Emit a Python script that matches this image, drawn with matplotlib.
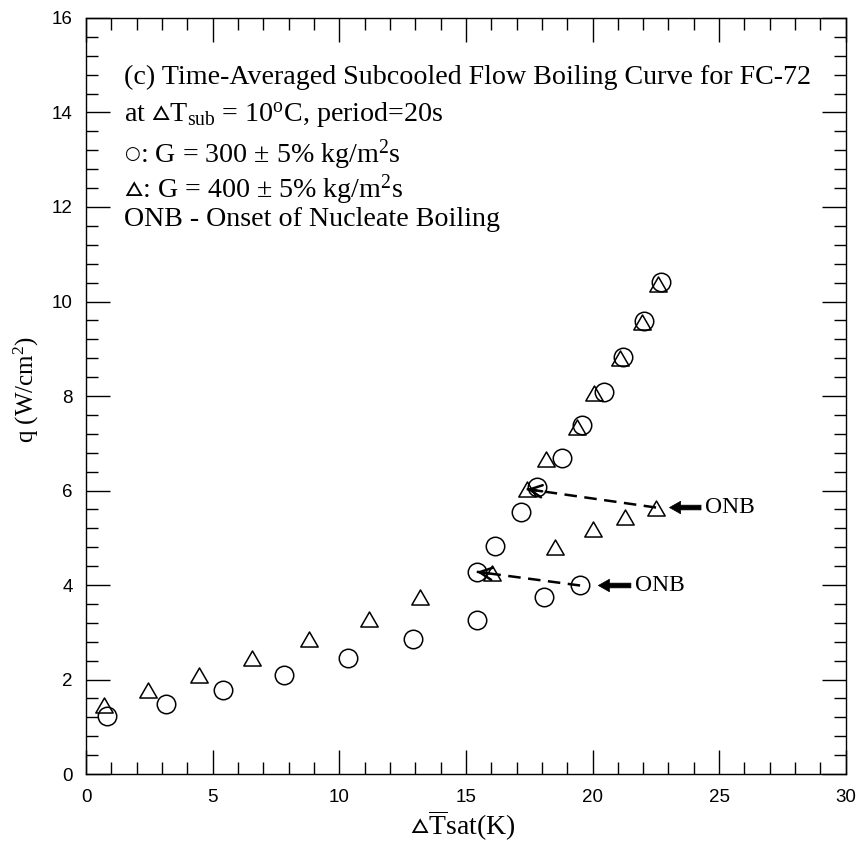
import matplotlib
matplotlib.use('Agg')
import matplotlib.pyplot as plt
from matplotlib.path import Path
from matplotlib.ticker import MultipleLocator

plt.rcParams['mathtext.fontset'] = 'custom'
plt.rcParams['mathtext.rm'] = 'Liberation Serif'
plt.rcParams['mathtext.it'] = 'Liberation Serif:italic'
plt.rcParams['mathtext.bf'] = 'Liberation Serif:bold'
plt.rcParams['mathtext.fallback'] = 'stix'

# G = 300 kg/m2s (circles), in order of increasing heat flux
dT_300 = [0.82, 3.16, 5.40, 7.82, 10.33, 12.91, 15.43, 18.10, 19.51,
          15.43, 16.16, 17.18, 17.82, 18.78, 19.58, 20.46, 21.20, 22.02, 22.69]
q_300 = [1.23, 1.48, 1.78, 2.09, 2.45, 2.86, 3.26, 3.74, 3.99,
         4.28, 4.83, 5.55, 6.08, 6.68, 7.39, 8.08, 8.82, 9.59, 10.41]
onb_300 = 8

# G = 400 kg/m2s (triangles)
dT_400 = [0.71, 2.46, 4.46, 6.54, 8.80, 11.18, 13.19, 16.03, 18.52, 20.01,
          21.29, 22.51, 17.40, 18.16, 19.38, 20.04, 21.07, 21.94, 22.60]
q_400 = [1.46, 1.78, 2.09, 2.46, 2.85, 3.29, 3.75, 4.25, 4.80, 5.19,
         5.45, 5.64, 6.03, 6.67, 7.35, 8.06, 8.80, 9.57, 10.38]
onb_400 = 11

x_ticks = [0, 5, 10, 15, 20, 25, 30]
y_ticks = [0, 2, 4, 6, 8, 10, 12, 14, 16]

# (leading symbol, rest of line)
title_lines = [
    ('', '(c) Time-Averaged Subcooled Flow Boiling Curve for FC-72'),
    ('', r'at $\mathrm{▵T_{sub}}$ = 10$^{\mathrm{o}}$C, period=20s'),
    ('○', r': G = 300 ± 5% kg/m$^{\mathrm{2}}$s'),
    ('', r'$\mathrm{▵}$: G = 400 ± 5% kg/m$^{\mathrm{2}}$s'),
    ('', 'ONB - Onset of Nucleate Boiling'),
]

fig = plt.figure(figsize=(8.61, 8.52), dpi=100)
ax = fig.add_axes([0.0999, 0.0915, 0.8824, 0.8874])

tri = Path([(-1, -0.866), (1, -0.866), (0, 0.866), (-1, -0.866)],
           [Path.MOVETO, Path.LINETO, Path.LINETO, Path.CLOSEPOLY])

ax.plot(dT_300, q_300, ls='none', marker='o', ms=13.3, mfc='none',
        mec='black', mew=1.1)
ax.plot(dT_400, q_400, ls='none', marker=tri, ms=12.5, mfc='none',
        mec='black', mew=1.1)

# dashed arrows from ONB points to the next measured point
for xs, ys, i in [(dT_300, q_300, onb_300), (dT_400, q_400, onb_400)]:
    x0, y0, x1, y1 = xs[i], ys[i], xs[i + 1], ys[i + 1]
    ax.plot([x0, x1], [y0, y1], color='black', lw=1.8, ls=(0, (5, 3)))
    ax.annotate('', xy=(x1, y1), xytext=(x1 + 0.12 * (x0 - x1), y1 + 0.12 * (y0 - y1)),
                arrowprops=dict(arrowstyle='->,head_length=0.45,head_width=0.22',
                                lw=1.8, color='black', shrinkA=0, shrinkB=0,
                                mutation_scale=20))

# bold ONB arrows
for xs, ys, i, dx_tip, dx_txt in [(dT_300, q_300, onb_300, 0.72, 2.17),
                                  (dT_400, q_400, onb_400, 0.53, 1.94)]:
    ax.annotate('ONB', xy=(xs[i] + dx_tip, ys[i]), xytext=(xs[i] + dx_txt, ys[i]),
                ha='left', va='center', fontsize=17, family='Liberation Serif',
                arrowprops=dict(arrowstyle='simple,head_length=0.4,head_width=0.45,tail_width=0.17',
                                fc='black', ec='black', lw=0.5, shrinkA=1, shrinkB=0,
                                mutation_scale=20))

baselines = [14.60, 13.80, 12.95, 12.20, 11.60]
for (sym, txt), yb in zip(title_lines, baselines):
    if sym:
        s = ax.text(1.50, yb + 0.07, sym, fontsize=13, family='DejaVu Sans',
                    ha='left', va='baseline')
        ax.annotate(txt, xy=(1, yb), xycoords=(s, 'data'), fontsize=20.2,
                    family='Liberation Serif', ha='left', va='baseline')
    else:
        ax.text(1.50, yb, txt, fontsize=20.2, family='Liberation Serif',
                ha='left', va='baseline')

ax.set_xlim(0, 30)
ax.set_ylim(0, 16)
ax.set_xticks(x_ticks)
ax.set_yticks(y_ticks)
ax.xaxis.set_minor_locator(MultipleLocator(1))
ax.yaxis.set_minor_locator(MultipleLocator(0.4))
ax.tick_params(which='both', direction='in', top=True, right=True, width=1.0,
               labelsize=13.5, labelfontfamily='Liberation Sans')
ax.tick_params(which='major', length=17.3)
ax.tick_params(which='minor', length=8.6)
ax.tick_params(axis='y', pad=9.5)
ax.tick_params(axis='x', pad=11)
for s in ax.spines.values():
    s.set_linewidth(1.0)

ax.set_xlabel(r'$\mathrm{▵}\overline{\mathrm{T}}$sat(K)', fontsize=20,
              family='Liberation Serif')
ax.set_ylabel(r'q (W/cm$^{\mathrm{2}}$)', fontsize=18,
              family='Liberation Serif')
ax.xaxis.set_label_coords(0.496, -0.046)
ax.yaxis.set_label_coords(-0.059, 0.508)

fig.savefig('out.png', dpi=100)
